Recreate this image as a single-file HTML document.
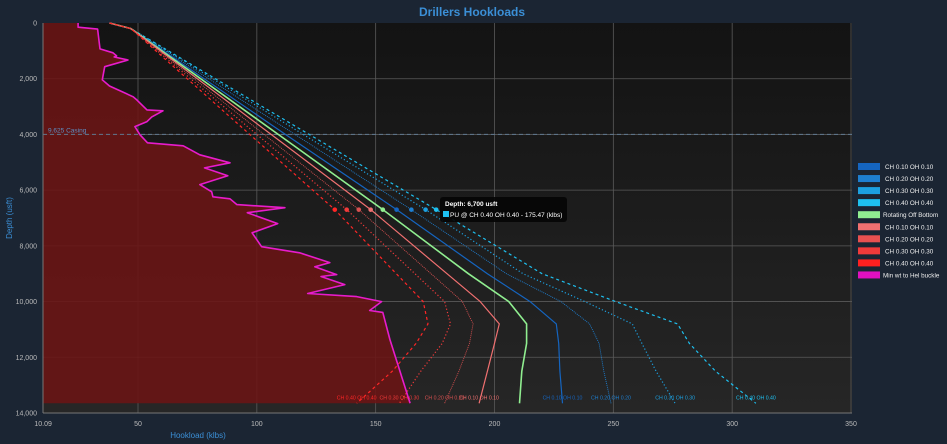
<!DOCTYPE html>
<html><head><meta charset="utf-8"><style>
html,body{margin:0;padding:0;background:#1b2533;width:947px;height:444px;overflow:hidden;font-family:"Liberation Sans",sans-serif}
</style></head><body>
<svg id="chart" width="947" height="444" xmlns="http://www.w3.org/2000/svg" style="position:absolute;left:0;top:0">
<defs>
<linearGradient id="bg" x1="0" y1="0" x2="0" y2="1"><stop offset="0" stop-color="#131313"/><stop offset="1" stop-color="#262626"/></linearGradient>
</defs>
<text x="472" y="16" text-anchor="middle" fill="#3b8fd6" font-size="12" font-weight="bold">Drillers Hookloads</text>
<rect x="43" y="23" width="809" height="390" fill="url(#bg)"/>
<g id="grid"></g>
<g id="series"></g>
<g id="axes"></g>
<text transform="translate(12,218) rotate(-90)" text-anchor="middle" fill="#3b8fd6" font-size="8">Depth (usft)</text>
<text x="198" y="438" text-anchor="middle" fill="#3b8fd6" font-size="8">Hookload (klbs)</text>
<g id="legend"></g>
<g id="tooltip">
<rect x="440" y="197" width="127" height="25" rx="3" fill="#050505" opacity="0.92"/>
<text x="445" y="206" fill="#fff" font-size="6.5" font-weight="bold">Depth: 6,700 usft</text>
<rect x="443" y="211" width="6" height="6" fill="#1ec0f0"/>
<text x="450" y="217" fill="#fff" font-size="6.5">PU @ CH 0.40 OH 0.40 - 175.47 (klbs)</text>
</g>
</svg>
<script>
const depths=[0,200,4000,6700,9000,10000,10800,11500,12500,13650];
const seriesNames=["CH 0.10 OH 0.10","CH 0.20 OH 0.20","CH 0.30 OH 0.30","CH 0.40 OH 0.40","Rotating Off Bottom","CH 0.10 OH 0.10","CH 0.20 OH 0.20","CH 0.30 OH 0.30","CH 0.40 OH 0.40"];
const b10=[38,47,112,158.8,197,215,226,227,227.5,228.6];
const b20=[38,47,116,165,205,228,240,244,246,249];
const b30=[38,47,119.5,171,212,238,258,262,268,276];
const b40=[38,47,122,175.47,220,251,277,282,293,310];
const rob=[38,47,109,153,189,206,213.5,213.5,211.5,210.5];
const r10=[38,47,106,147.9,180,194,202,200,197,193.5];
const r20=[38,47,103,142.9,173.3,186.5,191,189.5,185,179];
const r30=[38,47,100,137.8,166.5,179,181.5,178,169,160];
const r40=[38,47,97,132.8,158.7,170,172,167,157,142];
const buckleDepth=[0,150,220,930,1070,1180,1220,1330,1570,2040,2260,2650,2760,3120,3150,3370,3540,3720,4010,4300,4410,4730,5020,5200,5480,5800,6060,6240,6310,6520,6630,6810,7200,7530,8030,8250,8600,8750,9030,9100,9390,9710,9820,10000,10320,10390,11360,13650];
const buckleLoad=[24.8,24.8,33,34,39.5,41,40,45.8,36,35,38,48,49.5,53.8,60.5,55.8,53.8,48.7,50.8,54,69,76,88.7,78,87.8,76,81,81.5,88.7,91.6,111.8,96,108.8,98,102,118,130.7,124.4,133.6,127,137,121.4,142,152.5,147.5,153,156,164.5];
const xTicks=[10.09,50,100,150,200,250,300,350];
const yTicks=[0,2000,4000,6000,8000,10000,12000,14000];
const tipDepth=6700;

const NS="http://www.w3.org/2000/svg";
const X0=43,X1=852,Y0=23,Y1=413;
const xs=v=>138+(v-50)*(851-138)/300;
const ys=d=>Y0+d*(Y1-Y0)/14000;
function mk(tag,attrs,parent){const e=document.createElementNS(NS,tag);for(const k in attrs)e.setAttribute(k,attrs[k]);parent.appendChild(e);return e;}
const grid=document.getElementById('grid'),axes=document.getElementById('axes'),ser=document.getElementById('series'),leg=document.getElementById('legend');
xTicks.forEach((t,i)=>{const x=xs(t);
 if(i>0){const l=mk('line',{x1:x,x2:x,y1:Y0,y2:Y1,stroke:'#5a5a5a','stroke-width':0.8},grid);
 
 }
 const tx=mk('text',{x:x,y:Y1+13,'text-anchor':'middle',fill:'#bbb','font-size':7},axes);tx.textContent=t===10.09?'10.09':t;
 
 
});
yTicks.forEach(t=>{const y=ys(t);
 if(t>0&&t<14000){const l=mk('line',{x1:X0,x2:X1,y1:y,y2:y,stroke:'#5a5a5a','stroke-width':0.8},grid);
 
 }
 const tx=mk('text',{x:37,y:y+2.5,'text-anchor':'end',fill:'#bbb','font-size':7},axes);tx.textContent=t.toLocaleString('en-US');
 
 
});
mk('line',{x1:X0,x2:X0,y1:Y0,y2:Y1,stroke:'#777','stroke-width':1},axes);
mk('line',{x1:X0,x2:X1,y1:Y1,y2:Y1,stroke:'#777','stroke-width':1},axes);
let fp='M'+X0+','+ys(0);
buckleDepth.forEach((d,i)=>{fp+=' L'+xs(buckleLoad[i]).toFixed(1)+','+ys(d).toFixed(1);});
fp+=' L'+X0+','+ys(13650)+' Z';
const fill=mk('path',{d:fp,fill:'#6b1515',opacity:0.88},ser);


const cas=mk('line',{x1:X0,x2:X1,y1:ys(4000),y2:ys(4000),stroke:'#5f7890','stroke-width':1,'stroke-dasharray':'4,3'},ser);


const ct=mk('text',{x:48,y:ys(4000)-2,fill:'#5e8fc4','font-size':6.5},ser);ct.textContent='9.625 Casing';


const defs=[
 [b10,'#1565c0',1.2,'','b10'],[b20,'#1e7fd0',0.9,'1,1','b20'],[b30,'#1ca0e0',1.2,'1.2,2.2','b30'],[b40,'#1ec0f0',1.2,'3,3','b40'],
 [rob,'#90ee90',1.6,'','rob'],[r10,'#f07070',1.2,'','r10'],[r20,'#d85050',0.9,'1,1','r20'],[r30,'#f03a3a',1.2,'1.2,2.2','r30'],[r40,'#ff2626',1.2,'3,3','r40']];
function interp(arr,d){for(let i=1;i<depths.length;i++){if(d<=depths[i]){const f=(d-depths[i-1])/(depths[i]-depths[i-1]);return arr[i-1]+f*(arr[i]-arr[i-1]);}}return arr[arr.length-1];}
defs.forEach((s,k)=>{
 let p='';s[0].forEach((v,i)=>{p+=(i?' L':'M')+xs(v).toFixed(1)+','+ys(depths[i]).toFixed(1);});
 const a={d:p,fill:'none',stroke:s[1],'stroke-width':s[2],'stroke-linejoin':'round'};if(s[3])a['stroke-dasharray']=s[3];
 const e=mk('path',a,ser);
 
 
 const c=mk('circle',{cx:xs(interp(s[0],tipDepth)),cy:ys(tipDepth),r:2.3,fill:s[1]},ser);
 
 
 if(k!==4){const t=mk('text',{x:xs(s[0][s[0].length-1]),y:ys(13650)-4,'text-anchor':'middle',fill:s[1],'font-size':5.2},ser);t.textContent=seriesNames[k];
 
 }
});
let bp='';buckleDepth.forEach((d,i)=>{bp+=(i?' L':'M')+xs(buckleLoad[i]).toFixed(1)+','+ys(d).toFixed(1);});
const bl=mk('path',{d:bp,fill:'none',stroke:'#e81ccc','stroke-width':1.6,'stroke-linejoin':'round'},ser);


const legCols=['#1565c0','#1e7fd0','#1ca0e0','#1ec0f0','#90ee90','#f07070','#e85050','#f03a3a','#ff2020','#e010c0'];
const legNames=seriesNames.concat(['Min wt to Hel buckle']);
legNames.forEach((n,i)=>{const y=163+i*12.05;
 const g=mk('g',{},leg);
 
 
 mk('rect',{x:858,y:y,width:22,height:7,fill:legCols[i]},g);
 const t=mk('text',{x:n.length>16?883:885,y:y+6,fill:'#eee','font-size':6.3},g);t.textContent=n;
});
</script>
</body></html>
